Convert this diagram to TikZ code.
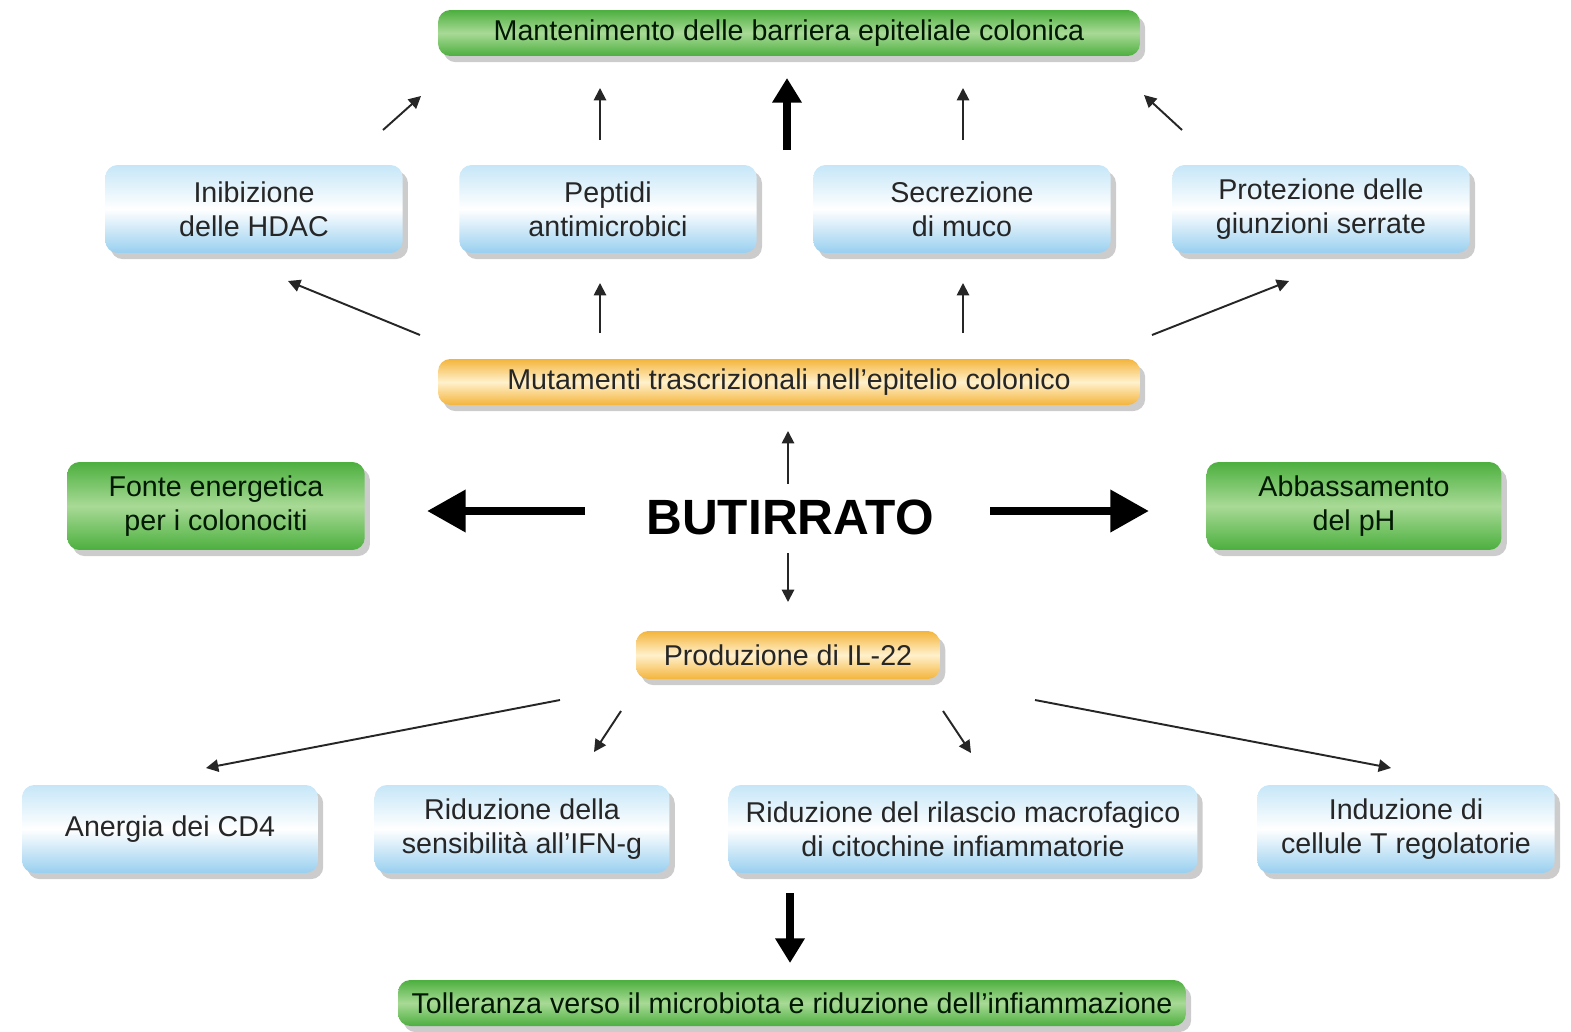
\documentclass[tikz,border=0pt]{standalone}
\usepackage{fontspec}
\setmainfont{Liberation Sans}
\usetikzlibrary{positioning, shadows, arrows.meta}

\definecolor{celeste}{HTML}{98CFF0}
\definecolor{celestechiaro}{HTML}{C6E6F8}
\definecolor{verde}{HTML}{4CAF3E}
\definecolor{verdechiaro}{HTML}{A8DA96}
\definecolor{arancio}{HTML}{F4B43C}
\definecolor{aranciochiaro}{HTML}{FFF1CC}

\tikzset{
    box/.style={rounded corners=7pt, align=center, inner sep=0pt, text=black!85,
        font=\fontsize{16.3}{19.3}\selectfont,
        drop shadow={opacity=0.4, shadow xshift=3pt, shadow yshift=-3.5pt}},
    bluebox/.style={box, top color=celestechiaro, bottom color=celeste, middle color=white,
        minimum width=5.95cm, minimum height=1.76cm},
    greenbox/.style={box, top color=verde, bottom color=verde, middle color=verdechiaro,
        text=black!90!green, minimum height=0.92cm},
    orangebox/.style={box, top color=arancio, bottom color=arancio, middle color=aranciochiaro,
        minimum height=0.92cm},
    freccia/.style={-{Triangle[length=7pt, width=7pt]}, line width=1.1pt, black!85},
    frecciona/.style={-{Triangle[length=14pt, width=16pt]}, line width=4.5pt},
    freccione/.style={-{Triangle[length=22pt, width=23pt]}, line width=5pt}
}

\begin{document}
\begin{tikzpicture}[x=0.02cm, y=-0.02cm]
    \useasboundingbox (0,0) rectangle (1571,1031);

    % riga in alto
    \node[greenbox, minimum width=14.04cm] (barriera) at (789,33) {Mantenimento delle barriera epiteliale colonica};
    \node[bluebox] (hdac) at (254,209) {Inibizione\\delle HDAC};
    \node[bluebox] (peptidi) at (608,209) {Peptidi\\antimicrobici};
    \node[bluebox] (muco) at (962,209) {Secrezione\\di muco};
    \node[bluebox] (giunzioni) at (1321,209) {Protezione delle\\giunzioni serrate};
    \node[orangebox, minimum width=14.04cm] (mutamenti) at (789,382) {Mutamenti trascrizionali nell'epitelio colonico};

    % centro
    \node[greenbox, minimum width=5.95cm, minimum height=1.76cm] (fonte) at (216,506) {Fonte energetica\\per i colonociti};
    \node[font=\fontsize{28.2}{31}\selectfont\bfseries, inner sep=0pt] (butirrato) at (790,517) {BUTIRRATO};
    \node[greenbox, minimum width=5.9cm, minimum height=1.76cm] (ph) at (1354,506) {Abbassamento\\del pH};
    \node[orangebox, minimum width=6.08cm, minimum height=0.96cm] (il22) at (788,655) {Produzione di IL-22};

    % riga in basso
    \node[bluebox, minimum width=5.92cm] (cd4) at (170,829) {Anergia dei CD4};
    \node[bluebox, minimum width=5.9cm] (ifn) at (522,829) {Riduzione della\\sensibilità all'IFN-g};
    \node[bluebox, minimum width=9.38cm] (macro) at (963,829) {Riduzione del rilascio macrofagico\\di citochine infiammatorie};
    \node[bluebox] (treg) at (1406,829) {Induzione di\\cellule T regolatorie};
    \node[greenbox, minimum width=15.76cm] (tolleranza) at (792,1003) {Tolleranza verso il microbiota e riduzione dell'infiammazione};

    % estremi delle frecce
    \coordinate (s1) at (383,130); \coordinate (e1) at (421,96);
    \coordinate (s2) at (600,140); \coordinate (e2) at (600,88);
    \coordinate (s3) at (787,150); \coordinate (e3) at (787,78);
    \coordinate (s4) at (963,140); \coordinate (e4) at (963,88);
    \coordinate (s5) at (1182,130); \coordinate (e5) at (1144,95);
    \coordinate (s6) at (420,335); \coordinate (e6) at (288,281);
    \coordinate (s7) at (600,333); \coordinate (e7) at (600,283);
    \coordinate (s8) at (963,333); \coordinate (e8) at (963,283);
    \coordinate (s9) at (1152,335); \coordinate (e9) at (1289,281);
    \coordinate (s10) at (788,484); \coordinate (e10) at (788,431);
    \coordinate (s11) at (585,511); \coordinate (e11) at (427,511);
    \coordinate (s12) at (990,511); \coordinate (e12) at (1149,511);
    \coordinate (s13) at (788,553); \coordinate (e13) at (788,602);
    \coordinate (s14) at (560,700); \coordinate (e14) at (206,768);
    \coordinate (s15) at (621,711); \coordinate (e15) at (594,752);
    \coordinate (s16) at (943,711); \coordinate (e16) at (971,753);
    \coordinate (s17) at (1035,700); \coordinate (e17) at (1391,768);
    \coordinate (s18) at (790,893); \coordinate (e18) at (790,963);

    \draw[freccia] (s1) -- (e1);
    \draw[freccia] (s2) -- (e2);
    \draw[frecciona] (s3) -- (e3);
    \draw[freccia] (s4) -- (e4);
    \draw[freccia] (s5) -- (e5);
    \draw[freccia] (s6) -- (e6);
    \draw[freccia] (s7) -- (e7);
    \draw[freccia] (s8) -- (e8);
    \draw[freccia] (s9) -- (e9);
    \draw[freccia] (s10) -- (e10);
    \draw[freccione] (s11) -- (e11);
    \draw[freccione] (s12) -- (e12);
    \draw[freccia] (s13) -- (e13);
    \draw[freccia] (s14) -- (e14);
    \draw[freccia] (s15) -- (e15);
    \draw[freccia] (s16) -- (e16);
    \draw[freccia] (s17) -- (e17);
    \draw[frecciona] (s18) -- (e18);
\end{tikzpicture}
\end{document}
